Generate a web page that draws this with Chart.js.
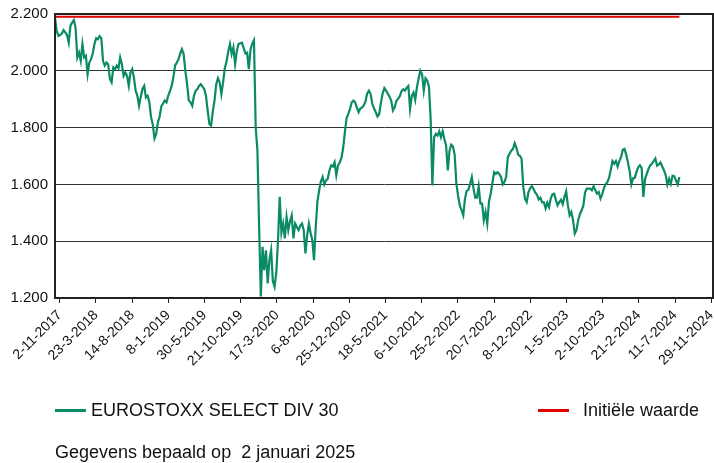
<!DOCTYPE html>
<html>
<head>
<meta charset="utf-8">
<script src="https://cdn.jsdelivr.net/npm/chart.js@4.4.1/dist/chart.umd.min.js"></script>
<style>
  body { margin: 0; background: #fff; }
  #wrap { position: relative; width: 714px; height: 463px; font-family: "Liberation Sans", Arial, sans-serif; color: #111; }
  #legend .item { position: absolute; top: 398px; font-size: 18px; line-height: 24px; white-space: nowrap; }
  #legend .swatch { display: inline-block; width: 31px; height: 3px; vertical-align: middle; position: relative; top: -1px; }
  #footer { position: absolute; left: 55px; top: 440px; font-size: 18px; line-height: 24px; white-space: nowrap; }
</style>
</head>
<body>
<div id="wrap">
  <canvas id="chart" width="714" height="463"></canvas>
  <div id="legend"></div>
  <div id="footer">Gegevens bepaald op&nbsp; 2 januari 2025</div>
</div>
<script>
// date labels along the x axis
const tickLabels = ['2-11-2017', '23-3-2018', '14-8-2018', '8-1-2019', '30-5-2019', '21-10-2019',
  '17-3-2020', '6-8-2020', '25-12-2020', '18-5-2021', '6-10-2021', '25-2-2022', '20-7-2022',
  '8-12-2022', '1-5-2023', '2-10-2023', '21-2-2024', '11-7-2024', '29-11-2024'];

const seriesName = 'EUROSTOXX SELECT DIV 30';
const initialName = 'Initiële waarde';
const initialValue = 2.19;

// index level, one reading every 5 trading days
const sampleStep = 5;
const indexValues = [
  2.187, 2.140, 2.123, 2.126, 2.131, 2.143, 2.135, 2.126, 2.099, 2.158,
  2.170, 2.179, 2.152, 2.047, 2.064, 2.035, 2.094, 2.047, 2.053, 1.988,
  2.029, 2.041, 2.061, 2.094, 2.115, 2.111, 2.122, 2.115, 2.035, 2.018,
  2.029, 2.023, 1.971, 1.959, 2.012, 2.006, 2.018, 2.009, 2.047, 2.023,
  1.982, 1.994, 1.982, 1.947, 1.994, 2.006, 1.977, 1.930, 1.912, 1.877,
  1.909, 1.936, 1.947, 1.906, 1.912, 1.889, 1.836, 1.811, 1.762, 1.778,
  1.819, 1.839, 1.875, 1.885, 1.895, 1.889, 1.912, 1.928, 1.947, 1.977,
  2.018, 2.029, 2.040, 2.061, 2.076, 2.059, 2.000, 1.953, 1.895, 1.889,
  1.877, 1.912, 1.930, 1.935, 1.947, 1.953, 1.944, 1.936, 1.912, 1.860,
  1.813, 1.807, 1.857, 1.895, 1.953, 1.974, 1.959, 1.918, 1.959, 2.009,
  2.033, 2.068, 2.094, 2.059, 2.082, 2.023, 2.070, 2.094, 2.097, 2.099,
  2.080, 2.061, 2.064, 2.006, 2.076, 2.096, 2.108, 1.800, 1.720, 1.450,
  1.205, 1.380, 1.298, 1.368, 1.251, 1.333, 1.368, 1.260, 1.240, 1.290,
  1.400, 1.556, 1.430, 1.462, 1.410, 1.485, 1.439, 1.470, 1.491, 1.410,
  1.462, 1.450, 1.439, 1.455, 1.462, 1.439, 1.357, 1.420, 1.462, 1.430,
  1.404, 1.333, 1.450, 1.540, 1.579, 1.610, 1.626, 1.600, 1.614, 1.620,
  1.649, 1.667, 1.663, 1.678, 1.632, 1.667, 1.677, 1.694, 1.729, 1.784,
  1.834, 1.848, 1.866, 1.889, 1.895, 1.889, 1.870, 1.854, 1.867, 1.871,
  1.878, 1.892, 1.920, 1.930, 1.918, 1.883, 1.867, 1.854, 1.839, 1.848,
  1.887, 1.920, 1.939, 1.930, 1.920, 1.909, 1.895, 1.860, 1.871, 1.894,
  1.901, 1.910, 1.928, 1.935, 1.930, 1.940, 1.947, 1.866, 1.912, 1.924,
  1.897, 1.942, 1.974, 2.000, 1.988, 1.930, 1.974, 1.966, 1.944, 1.830,
  1.596, 1.766, 1.778, 1.772, 1.787, 1.766, 1.787, 1.760, 1.737, 1.649,
  1.719, 1.740, 1.733, 1.705, 1.602, 1.560, 1.526, 1.509, 1.491, 1.549,
  1.577, 1.581, 1.602, 1.626, 1.585, 1.553, 1.553, 1.593, 1.532, 1.532,
  1.474, 1.503, 1.462, 1.540, 1.567, 1.605, 1.643, 1.637, 1.643, 1.637,
  1.626, 1.600, 1.608, 1.626, 1.696, 1.708, 1.719, 1.725, 1.745, 1.729,
  1.705, 1.701, 1.690, 1.591, 1.550, 1.538, 1.572, 1.586, 1.594, 1.584,
  1.571, 1.563, 1.547, 1.553, 1.537, 1.537, 1.516, 1.536, 1.520, 1.550,
  1.565, 1.567, 1.546, 1.526, 1.538, 1.546, 1.530, 1.556, 1.575, 1.526,
  1.491, 1.503, 1.474, 1.427, 1.439, 1.474, 1.495, 1.509, 1.525, 1.571,
  1.585, 1.585, 1.585, 1.579, 1.594, 1.579, 1.567, 1.573, 1.550, 1.565,
  1.587, 1.600, 1.608, 1.623, 1.651, 1.682, 1.673, 1.682, 1.663, 1.682,
  1.696, 1.722, 1.725, 1.705, 1.678, 1.647, 1.600, 1.621, 1.623, 1.644,
  1.660, 1.667, 1.658, 1.556, 1.619, 1.637, 1.655, 1.667, 1.673, 1.682,
  1.691, 1.666, 1.670, 1.677, 1.663, 1.650, 1.633, 1.599, 1.620, 1.602,
  1.630, 1.629, 1.614, 1.600, 1.626
];

const green = '#0b8a66';
const red = '#e00000';
const fontFamily = '"Liberation Sans", Arial, sans-serif';

const seriesPoints = indexValues.map((v, i) => ({ x: i * sampleStep, y: v }));
const lastX = seriesPoints[seriesPoints.length - 1].x;
const initialPoints = [{ x: 0, y: initialValue }, { x: lastX, y: initialValue }];

// where the date labels sit along the axis
const axisMax = 1918;
const labelStart = 14;
const labelStep = 105.5;

// frame round the plot area
const frame = {
  id: 'frame',
  afterDraw(chart) {
    const { ctx, chartArea: a } = chart;
    ctx.save();
    ctx.strokeStyle = '#222';
    ctx.lineWidth = 2;
    ctx.strokeRect(a.left, a.top, a.right - a.left, a.bottom - a.top);
    ctx.restore();
  }
};

const chart = new Chart(document.getElementById('chart'), {
  type: 'line',
  data: {
    datasets: [
      {
        label: initialName,
        data: initialPoints,
        borderColor: red,
        borderWidth: 2,
        pointRadius: 0
      },
      {
        label: seriesName,
        data: seriesPoints,
        borderColor: green,
        borderWidth: 2.2,
        pointRadius: 0,
        tension: 0
      }
    ]
  },
  options: {
    responsive: false,
    animation: false,
    layout: { padding: { top: 14, right: 1, left: 0, bottom: 0 } },
    plugins: {
      legend: { display: false },
      tooltip: { enabled: false }
    },
    scales: {
      x: {
        type: 'linear',
        min: 0,
        max: axisMax,
        afterFit: s => { s.height = 165; s.paddingLeft = 0; s.paddingRight = 0; },
        afterBuildTicks: s => {
          s.ticks = tickLabels.map((_, i) => ({ value: labelStart + i * labelStep }));
        },
        ticks: {
          autoSkip: false,
          minRotation: 45,
          maxRotation: 45,
          padding: 4,
          color: '#111',
          font: { family: fontFamily, size: 14 },
          callback: (v, i) => tickLabels[i]
        },
        grid: { drawOnChartArea: false, drawTicks: true, tickLength: 5, color: '#222' },
        border: { color: '#222', width: 2 }
      },
      y: {
        min: 1.2,
        max: 2.2,
        afterFit: s => { s.width = 55; s.paddingTop = 0; s.paddingBottom = 0; },
        ticks: {
          stepSize: 0.2,
          padding: 7,
          color: '#111',
          font: { family: fontFamily, size: 15 },
          callback: v => v.toFixed(3)
        },
        grid: { color: '#333', drawTicks: false },
        border: { color: '#222', width: 2 }
      }
    }
  },
  plugins: [frame]
});

// legend below the chart, built from the datasets
const legendPos = { [seriesName]: { left: 55, gap: 5 }, [initialName]: { left: 538, gap: 14 } };
const legendEl = document.getElementById('legend');
chart.data.datasets.slice().reverse().forEach(ds => {
  const pos = legendPos[ds.label];
  const item = document.createElement('div');
  item.className = 'item';
  item.style.left = pos.left + 'px';
  item.innerHTML = '<span class="swatch" style="background:' + ds.borderColor +
    ';margin-right:' + pos.gap + 'px"></span>' + ds.label;
  legendEl.appendChild(item);
});
</script>
</body>
</html>
